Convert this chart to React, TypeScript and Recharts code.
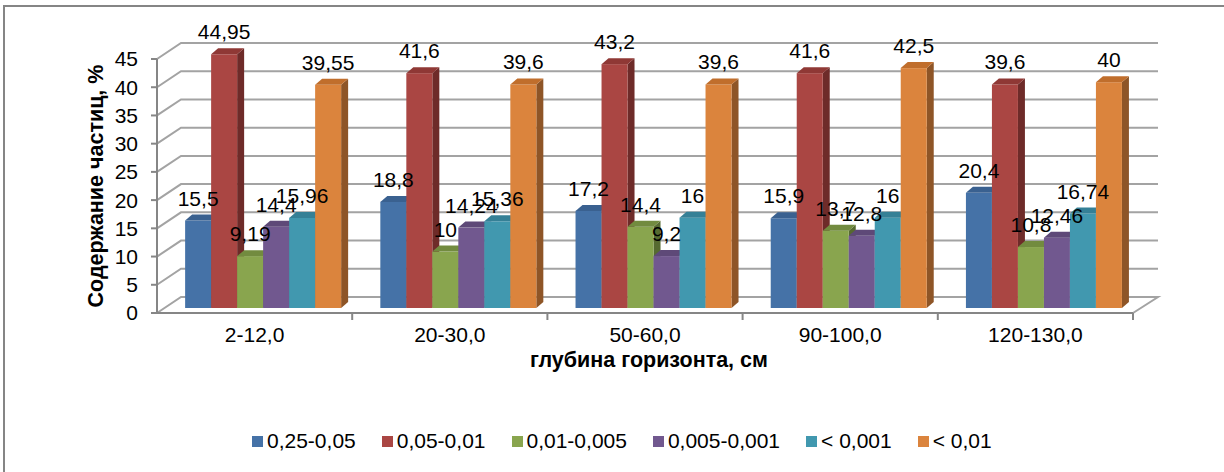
import React from 'react';
import { BarChart, Bar, XAxis, YAxis, CartesianGrid, Legend, LabelList } from 'recharts';

const categories = ['2-12,0', '20-30,0', '50-60,0', '90-100,0', '120-130,0'];
const seriesNames = ['0,25-0,05', '0,05-0,01', '0,01-0,005', '0,005-0,001', '< 0,001', '< 0,01'];
const s1 = [15.5, 18.8, 17.2, 15.9, 20.4];
const s2 = [44.95, 41.6, 43.2, 41.6, 39.6];
const s3 = [9.19, 10, 14.4, 13.7, 10.8];
const s4 = [14.4, 14.24, 9.2, 12.8, 12.46];
const s5 = [15.96, 15.36, 16, 16, 16.74];
const s6 = [39.55, 39.6, 39.6, 42.5, 40];
const yTicks = [0, 5, 10, 15, 20, 25, 30, 35, 40, 45];

const seriesValues = [s1, s2, s3, s4, s5, s6];
const keys = ['s1', 's2', 's3', 's4', 's5', 's6'];
const frontColors = ['#4572A7', '#AA4643', '#89A54E', '#71588F', '#4198AF', '#DB843D'];
const topColors = ['#3A6190', '#8F3835', '#728B3F', '#5E4978', '#358096', '#C06E2C'];
const sideColors = ['#2C4A6E', '#6E2B29', '#566A30', '#483A5C', '#296373', '#8E5527'];

const data = categories.map((cat, i) => {
  const row: any = { cat };
  keys.forEach((k, j) => { row[k] = seriesValues[j][i]; });
  return row;
});

const FONT = '"Liberation Sans", Arial, sans-serif';
const GRID = '#A3A3A3';
const AXIS = '#868686';
// 3D projection offsets
const WALL_DX = 24;
const WALL_DY = -16;
const BAR_DX = 9;
const BAR_DY = -5;
const DEPTH_X = 7;
const DEPTH_Y = -6;

const W = 1224;
const H = 472;
const M = { top: 59, right: 91, left: 97, bottom: 107 };
const Y_AXIS_W = 60;
const PLOT_W = W - M.left - Y_AXIS_W - M.right;
const BAND = PLOT_W / categories.length;

const fmt = (v: number) => String(v).replace('.', ',');

function makeShape(idx: number) {
  return (props: any) => {
    const { x, y, width, height } = props;
    if (width == null || height == null) return <g />;
    const x0 = x + BAR_DX;
    const y0 = y + BAR_DY;
    const w = width;
    const h = height;
    const top = `${x0},${y0} ${x0 + w},${y0} ${x0 + w + DEPTH_X},${y0 + DEPTH_Y} ${x0 + DEPTH_X},${y0 + DEPTH_Y}`;
    const side = `${x0 + w},${y0} ${x0 + w + DEPTH_X},${y0 + DEPTH_Y} ${x0 + w + DEPTH_X},${y0 + h + DEPTH_Y} ${x0 + w},${y0 + h}`;
    return (
      <g>
        <polygon points={side} fill={sideColors[idx]} />
        <rect x={x0} y={y0} width={w} height={h} fill={frontColors[idx]} />
        <polygon points={top} fill={topColors[idx]} />
      </g>
    );
  };
}

const renderLabel = (props: any) => {
  const { x, y, width, value } = props;
  return (
    <text x={x + BAR_DX + width / 2} y={y + BAR_DY - 15} textAnchor="middle" fontFamily={FONT} fontSize={21} fill="#000">
      {fmt(value)}
    </text>
  );
};

const gridLine = (props: any) => {
  const { x1, y1, x2, index } = props;
  const isZero = Math.abs(y1 - (H - 159)) < 1;
  const d = `M${x1},${y1} L${x1 + WALL_DX},${y1 + WALL_DY} L${x2 + WALL_DX + 1},${y1 + WALL_DY}` + (isZero ? ` L${x2},${y1}` : '');
  return <path key={`g-${index}-${y1}`} d={d} fill="none" stroke={GRID} strokeWidth={2} />;
};

const XTick = (props: any) => {
  const { x, y, payload } = props;
  const axisY = y - 8;
  return (
    <g>
      <line x1={x + BAND / 2} y1={axisY} x2={x + BAND / 2} y2={axisY + 7} stroke={AXIS} strokeWidth={2} />
      <text x={x} y={342} textAnchor="middle" fontFamily={FONT} fontSize={21} fill="#000">{payload.value}</text>
    </g>
  );
};

const LegendContent = () => (
  <div style={{ display: 'flex', alignItems: 'center', paddingLeft: 252, height: 22, fontFamily: FONT, fontSize: 21, color: '#000', whiteSpace: 'nowrap' }}>
    {seriesNames.map((n, i) => (
      <div key={n} style={{ display: 'flex', alignItems: 'center', marginRight: 26 }}>
        <span style={{ display: 'inline-block', width: 11, height: 11, background: frontColors[i], marginRight: 4 }} />
        <span style={{ lineHeight: '22px' }}>{n}</span>
      </div>
    ))}
  </div>
);

export default function App() {
  return (
    <div style={{ position: 'absolute', left: 0, top: 0, width: W, height: H, background: '#fff', overflow: 'hidden' }}>
      <div style={{ position: 'absolute', left: 3, top: 5, width: W - 3, height: H - 5, borderTop: '2px solid #858585', borderLeft: '2px solid #858585', boxSizing: 'border-box' }} />
      <BarChart width={W} height={H} data={data} margin={M} barCategoryGap="9.8%" barGap={0} style={{ position: 'absolute', left: 0, top: 0 }}>
        <CartesianGrid vertical={false} horizontal={gridLine} />
        <XAxis
          dataKey="cat"
          interval={0}
          height={30}
          tickLine={false}
          tick={<XTick />}
          axisLine={{ stroke: AXIS, strokeWidth: 2 }}
          label={{
            content: () => (
              <text x={649} y={367} textAnchor="middle" fontFamily={FONT} fontSize={21.5} fontWeight="bold" fill="#000">глубина горизонта, см</text>
            ),
          }}
        />
        <YAxis
          width={Y_AXIS_W}
          domain={[0, 45]}
          ticks={yTicks}
          interval={0}
          tickSize={6}
          tickMargin={13}
          tick={{ fill: '#000', fontSize: 21, fontFamily: FONT }}
          tickLine={{ stroke: AXIS, strokeWidth: 2 }}
          axisLine={{ stroke: AXIS, strokeWidth: 2 }}
          label={{
            content: () => (
              <text x={103} y={186} transform="rotate(-90, 103, 186)" textAnchor="middle" fontFamily={FONT} fontSize={21.5} fontWeight="bold" fill="#000">Содержание частиц, %</text>
            ),
          }}
        />
        <Legend
          verticalAlign="bottom"
          wrapperStyle={{ position: 'absolute', top: 430, bottom: 'auto', left: 0, width: W, height: 22 }}
          content={<LegendContent />}
        />
        {keys.map((k, i) => (
          <Bar key={k} dataKey={k} name={seriesNames[i]} fill={frontColors[i]} isAnimationActive={false} shape={makeShape(i)}>
            <LabelList dataKey={k} content={renderLabel} />
          </Bar>
        ))}
      </BarChart>
    </div>
  );
}
